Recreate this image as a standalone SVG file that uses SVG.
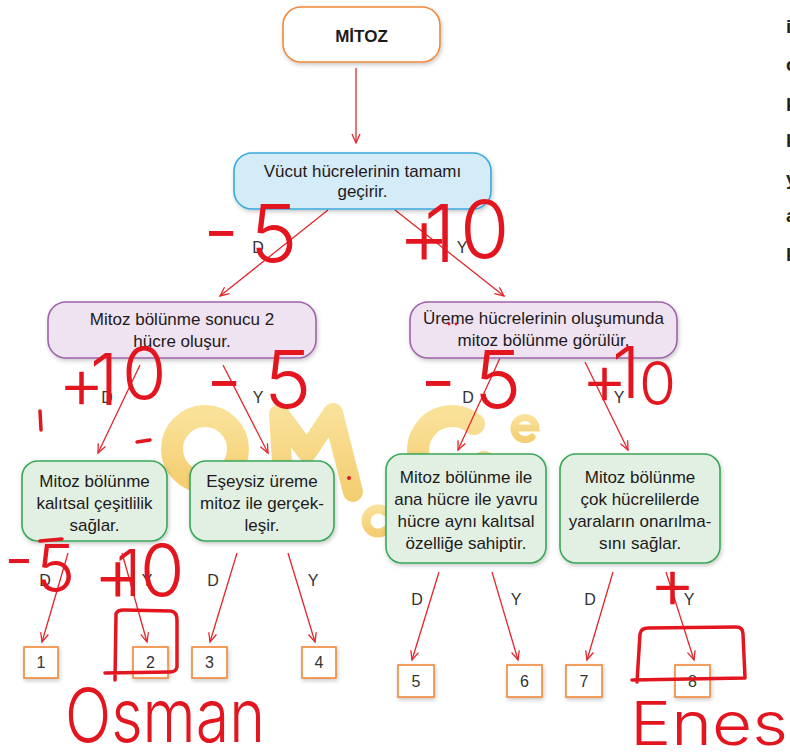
<svg xmlns="http://www.w3.org/2000/svg" width="790" height="756" viewBox="0 0 790 756">
<style>
  text { font-family: "Liberation Sans", Arial, sans-serif; }
  .t { font-size: 17px; fill: #1e1a1b; text-anchor: middle; }
  .lbl { font-size: 16px; fill: #333333; text-anchor: middle; }
  .num { font-size: 16px; fill: #333; text-anchor: middle; }
  .edge { font-size: 19px; font-weight: bold; fill: #231f20; }
  .box { stroke-width: 1.6; filter: url(#sh); }
  .orange { fill: #ffffff; stroke: #f0883a; }
  .blue { fill: #d4ebf8; stroke: #38a9dd; }
  .purple { fill: #efe2f1; stroke: #a063ab; }
  .green { fill: #e1f0e2; stroke: #3aa757; }
  .nbox { fill: #ffffff; stroke: #f0883a; stroke-width: 1.6; filter: url(#sh); }
  .conn line { stroke: #e3262d; stroke-width: 1.3; marker-end: url(#ah); }
  .hw { fill: #e3151f; font-family: "Inter", "Lato", "Liberation Sans", sans-serif; font-weight: 300; }
  .hwl { fill: none; stroke: #e3151f; stroke-width: 3.5; stroke-linecap: round; stroke-linejoin: round; }
  .wm { fill: none; stroke: url(#gold); stroke-linecap: round; }
</style>
<defs>
  <filter id="sh" x="-10%" y="-10%" width="130%" height="140%">
    <feDropShadow dx="1" dy="2" stdDeviation="2" flood-color="#000" flood-opacity="0.22"/>
  </filter>
  <marker id="ah" markerUnits="userSpaceOnUse" markerWidth="12" markerHeight="12" refX="10" refY="5" orient="auto">
    <path d="M1,1 L10,5 L1,9" fill="none" stroke="#e3262d" stroke-width="1.3"/>
  </marker>
  <linearGradient id="gold" x1="0" y1="0" x2="0" y2="1">
    <stop offset="0" stop-color="#f8dc86"/>
    <stop offset="1" stop-color="#f2c65a"/>
  </linearGradient>
</defs>
<rect width="790" height="756" fill="#ffffff"/>

<g id="watermark" opacity="0.85">
  <circle class="wm" cx="205" cy="449" r="33" stroke-width="22"/>
  <path class="wm" d="M284,495 L279,414 L307,452 L333,413 L353,492" stroke-width="20" stroke-linejoin="round"/>
  <path class="wm" d="M386,512 A12,12 0 1 0 386,530" stroke-width="9"/>
  <path class="wm" d="M474,424 A34,34 0 1 0 484,462" stroke-width="22"/>
  <path class="wm" d="M458,448 L492,448" stroke-width="12" stroke-linecap="butt"/>
  <path class="wm" d="M516,428 L536,428 A11,11 0 1 0 532,437" stroke-width="7"/>
</g>

<g id="connectors" class="conn">
  <line x1="356" y1="68" x2="356" y2="143"/>
  <line x1="328" y1="210" x2="220" y2="296"/>
  <line x1="395" y1="210" x2="504" y2="296"/>
  <line x1="140" y1="365" x2="98" y2="453"/>
  <line x1="223" y1="365" x2="268" y2="453"/>
  <line x1="500" y1="358" x2="458" y2="450"/>
  <line x1="585" y1="362" x2="628" y2="450"/>
  <line x1="68" y1="553" x2="42" y2="642"/>
  <line x1="122" y1="553" x2="147" y2="642"/>
  <line x1="237" y1="553" x2="210" y2="642"/>
  <line x1="288" y1="553" x2="315" y2="642"/>
  <line x1="439" y1="572" x2="412" y2="660"/>
  <line x1="492" y1="572" x2="518" y2="660"/>
  <line x1="613" y1="572" x2="587" y2="660"/>
  <line x1="666" y1="572" x2="694" y2="660"/>
</g>

<g id="labels">
  <text class="lbl" x="258" y="253">D</text>
  <text class="lbl" x="462" y="253">Y</text>
  <text class="lbl" x="107" y="403">D</text>
  <text class="lbl" x="258" y="403">Y</text>
  <text class="lbl" x="468" y="403">D</text>
  <text class="lbl" x="619" y="403">Y</text>
  <text class="lbl" x="45" y="586">D</text>
  <text class="lbl" x="147" y="586">Y</text>
  <text class="lbl" x="213" y="586">D</text>
  <text class="lbl" x="313" y="586">Y</text>
  <text class="lbl" x="417" y="605">D</text>
  <text class="lbl" x="516" y="605">Y</text>
  <text class="lbl" x="590" y="605">D</text>
  <text class="lbl" x="689" y="605">Y</text>
</g>

<g id="n-mitoz">
  <rect class="box orange" x="283" y="7" width="157" height="55" rx="18"/>
  <text class="t" x="361.5" y="42" font-weight="bold">MİTOZ</text>
</g>
<g id="n-vucut">
  <rect class="box blue" x="234" y="153" width="257" height="56" rx="18"/>
  <text class="t" x="362.5" y="177">Vücut hücrelerinin tamamı</text>
  <text class="t" x="362.5" y="197">geçirir.</text>
</g>
<g id="n-sonuc">
  <rect class="box purple" x="48" y="302" width="268" height="56" rx="18"/>
  <text class="t" x="182" y="325">Mitoz bölünme sonucu 2</text>
  <text class="t" x="182" y="347">hücre oluşur.</text>
</g>
<g id="n-ureme">
  <rect class="box purple" x="410" y="302" width="267" height="56" rx="18"/>
  <text class="t" x="543.5" y="324">Üreme hücrelerinin oluşumunda</text>
  <text class="t" x="543.5" y="346">mitoz bölünme görülür.</text>
</g>
<g id="n-kalitsal">
  <rect class="box green" x="22" y="461" width="145" height="80" rx="16"/>
  <text class="t" x="94.5" y="487">Mitoz bölünme</text>
  <text class="t" x="94.5" y="509">kalıtsal çeşitlilik</text>
  <text class="t" x="94.5" y="531">sağlar.</text>
</g>
<g id="n-eseysiz">
  <rect class="box green" x="190" y="461" width="144" height="80" rx="16"/>
  <text class="t" x="262" y="487">Eşeysiz üreme</text>
  <text class="t" x="262" y="509">mitoz ile gerçek-</text>
  <text class="t" x="262" y="531">leşir.</text>
</g>
<g id="n-ayni">
  <rect class="box green" x="386" y="454" width="160" height="109" rx="16"/>
  <text class="t" x="466" y="483">Mitoz bölünme ile</text>
  <text class="t" x="466" y="505">ana hücre ile yavru</text>
  <text class="t" x="466" y="527">hücre aynı kalıtsal</text>
  <text class="t" x="466" y="549">özelliğe sahiptir.</text>
</g>
<g id="n-onarim">
  <rect class="box green" x="560" y="454" width="160" height="109" rx="16"/>
  <text class="t" x="640" y="483">Mitoz bölünme</text>
  <text class="t" x="640" y="505">çok hücrelilerde</text>
  <text class="t" x="640" y="527">yaraların onarılma-</text>
  <text class="t" x="640" y="549">sını sağlar.</text>
</g>

<g id="n-1"><rect class="nbox" x="24" y="647" width="34" height="31"/><text class="num" x="41" y="668">1</text></g>
<g id="n-2"><rect class="nbox" x="133" y="647" width="35" height="31"/><text class="num" x="150.5" y="668">2</text></g>
<g id="n-3"><rect class="nbox" x="192" y="647" width="35" height="31"/><text class="num" x="209.5" y="668">3</text></g>
<g id="n-4"><rect class="nbox" x="302" y="647" width="34" height="31"/><text class="num" x="319" y="668">4</text></g>
<g id="n-5"><rect class="nbox" x="398" y="665" width="36" height="32"/><text class="num" x="416" y="687">5</text></g>
<g id="n-6"><rect class="nbox" x="507" y="665" width="35" height="32"/><text class="num" x="524.5" y="687">6</text></g>
<g id="n-7"><rect class="nbox" x="566" y="665" width="36" height="32"/><text class="num" x="584" y="687">7</text></g>
<g id="n-8"><rect class="nbox" x="675" y="665" width="35" height="32"/><text class="num" x="692.5" y="687">8</text></g>

<g id="edge-text">
  <text class="edge" x="786" y="33">i</text>
  <text class="edge" x="786" y="71">c</text>
  <text class="edge" x="786" y="111">k</text>
  <text class="edge" x="786" y="147">k</text>
  <text class="edge" x="786" y="185">y</text>
  <text class="edge" x="786" y="222">a</text>
  <text class="edge" x="786" y="261">k</text>
</g>

<g id="handwriting">
  <text class="hw" font-size="80"><tspan x="203" y="258">-</tspan><tspan x="250" y="262">5</tspan></text>
  <text class="hw" font-size="80"><tspan x="398" y="264">+</tspan><tspan x="424" y="262">1</tspan><tspan x="460" y="258">0</tspan></text>
  <text class="hw" font-size="72"><tspan x="58" y="408">+</tspan><tspan x="90" y="405">1</tspan><tspan x="122" y="399">0</tspan></text>
  <text class="hw" font-size="80"><tspan x="206" y="408">-</tspan><tspan x="264" y="408">5</tspan></text>
  <text class="hw" font-size="80"><tspan x="420" y="408">-</tspan><tspan x="474" y="408">5</tspan></text>
  <text class="hw" font-size="72"><tspan x="581" y="404">+</tspan><tspan x="612" y="398">1</tspan><tspan x="639" y="405" font-size="60">0</tspan></text>
  <text class="hw" font-size="66"><tspan x="4" y="582">-</tspan><tspan x="36" y="592">5</tspan></text>
  <text class="hw" font-size="76"><tspan x="93" y="601">+</tspan><tspan x="116" y="596" font-size="64">1</tspan><tspan x="140" y="596" font-size="72">0</tspan></text>
  <text class="hw" font-size="72"><tspan x="649" y="608">+</tspan></text>
  <text class="hw" x="65" y="742" font-size="74" textLength="200" lengthAdjust="spacingAndGlyphs">Osman</text>
  <text class="hw" x="630" y="745" font-size="60" textLength="158" lengthAdjust="spacingAndGlyphs">Enes</text>
  <path class="hwl" d="M40,411 L41,430"/>
  <path class="hwl" d="M137,442 L150,440"/>
  <path class="hwl" d="M40,541 L62,539"/>
  <path class="hwl" d="M115,680 L116,614 Q117,610 124,610 L171,611 Q177,612 177,620 L177,667 Q176,672 170,672 L105,673"/>
  <path class="hwl" d="M637,682 L640,634 Q641,628 648,628 L736,627 Q743,627 743,634 L745,678 L632,680"/>
  <circle cx="349" cy="478" r="2" fill="#e3151f"/>
  <circle cx="449" cy="324" r="1.4" fill="#e3151f"/>
  <circle cx="456" cy="324" r="1.4" fill="#e3151f"/>
</g>
</svg>
